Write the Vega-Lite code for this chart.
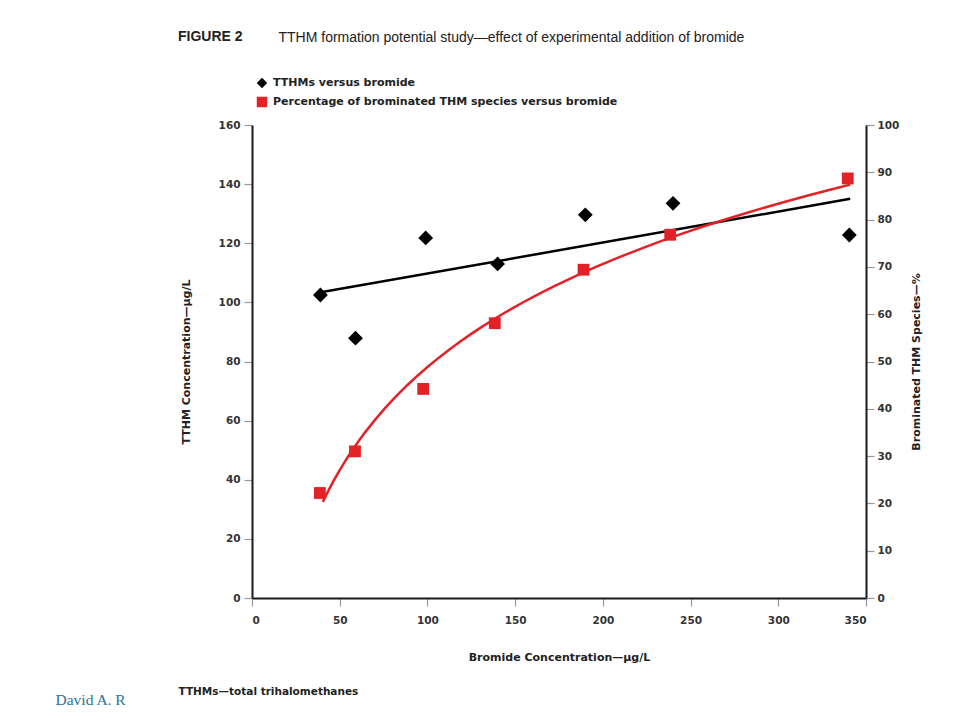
{
  "$schema": "https://vega.github.io/schema/vega-lite/v6.json",
  "width": 614,
  "height": 473,
  "autosize": {"type": "none"},
  "padding": {"left": 252, "top": 125, "right": 88, "bottom": 123},
  "background": "white",
  "config": {
    "view": {"stroke": null},
    "axis": {
      "labelFont": "DejaVu Sans",
      "labelFontWeight": "bold",
      "labelFontSize": 10.5,
      "labelColor": "#333333",
      "titleFont": "DejaVu Sans",
      "titleFontWeight": "bold",
      "titleFontSize": 11,
      "titleColor": "#222222",
      "domainColor": "#1a1a1a",
      "domainWidth": 2,
      "tickColor": "#999999",
      "tickWidth": 1.2,
      "tickSize": 8,
      "grid": false
    },
    "legend": {
      "orient": "none",
      "legendX": 4,
      "legendY": -48,
      "labelFont": "DejaVu Sans",
      "labelFontWeight": "bold",
      "labelFontSize": 11,
      "labelColor": "#222222",
      "labelLimit": 0,
      "symbolSize": 110,
      "labelOffset": 5,
      "rowPadding": 7,
      "padding": 0
    }
  },
  "datasets": {
    "tthm": [
      {"bromide": 39, "tthm": 102.5, "series": "TTHMs versus bromide"},
      {"bromide": 59, "tthm": 87.9, "series": "TTHMs versus bromide"},
      {"bromide": 99, "tthm": 121.8, "series": "TTHMs versus bromide"},
      {"bromide": 140, "tthm": 113.0, "series": "TTHMs versus bromide"},
      {"bromide": 190, "tthm": 129.6, "series": "TTHMs versus bromide"},
      {"bromide": 240, "tthm": 133.5, "series": "TTHMs versus bromide"},
      {"bromide": 340.5, "tthm": 122.8, "series": "TTHMs versus bromide"}
    ],
    "pct": [
      {"bromide": 38.7, "pct": 22.2, "series": "Percentage of brominated THM species versus bromide"},
      {"bromide": 58.7, "pct": 31.0, "series": "Percentage of brominated THM species versus bromide"},
      {"bromide": 97.6, "pct": 44.2, "series": "Percentage of brominated THM species versus bromide"},
      {"bromide": 138.4, "pct": 58.1, "series": "Percentage of brominated THM species versus bromide"},
      {"bromide": 189, "pct": 69.4, "series": "Percentage of brominated THM species versus bromide"},
      {"bromide": 238.4, "pct": 76.8, "series": "Percentage of brominated THM species versus bromide"},
      {"bromide": 339.6, "pct": 88.7, "series": "Percentage of brominated THM species versus bromide"}
    ]
  },
  "title": {
    "text": "FIGURE 2",
    "anchor": "start",
    "frame": "group",
    "dx": -74,
    "dy": 43,
    "offset": 29,
    "font": "Liberation Sans",
    "fontSize": 14,
    "fontWeight": "bold",
    "color": "#222222"
  },
  "layer": [
    {
      "data": {"name": "tthm"},
      "encoding": {
        "y": {
          "field": "tthm",
          "type": "quantitative",
          "scale": {"domain": [0, 160], "nice": false},
          "axis": {
            "orient": "left",
            "values": [0, 20, 40, 60, 80, 100, 120, 140, 160],
            "title": "TTHM Concentration—μg/L",
            "labelPadding": 4,
            "titlePadding": 27
          }
        }
      },
      "layer": [
        {
          "mark": {"type": "point", "filled": true, "opacity": 1, "size": 220},
          "encoding": {
            "x": {
              "field": "bromide",
              "type": "quantitative",
              "scale": {"domain": [0, 350], "nice": false},
              "axis": {
                "orient": "bottom",
                "values": [0, 50, 100, 150, 200, 250, 300, 350],
                "title": "Bromide Concentration—μg/L",
                "labelPadding": 9,
                "titlePadding": 26
              }
            },
            "color": {
              "field": "series",
              "type": "nominal",
              "title": null,
              "scale": {
                "domain": ["TTHMs versus bromide", "Percentage of brominated THM species versus bromide"],
                "range": ["#000000", "#e32227"]
              }
            },
            "shape": {
              "field": "series",
              "type": "nominal",
              "title": null,
              "scale": {
                "domain": ["TTHMs versus bromide", "Percentage of brominated THM species versus bromide"],
                "range": ["diamond", "square"]
              }
            }
          }
        },
        {
          "transform": [{"regression": "tthm", "on": "bromide", "extent": [40, 341]}],
          "mark": {"type": "line", "color": "#000000", "strokeWidth": 2.5},
          "encoding": {
            "x": {
              "field": "bromide",
              "type": "quantitative",
              "scale": {"domain": [0, 350], "nice": false},
              "axis": {
                "orient": "top",
                "title": "TTHM formation potential study—effect of experimental addition of bromide",
                "labels": false,
                "ticks": false,
                "domain": false,
                "titleAnchor": "start",
                "titleAlign": "left",
                "titleBaseline": "alphabetic",
                "titleX": 26,
                "titleY": -84,
                "titleFont": "Liberation Sans",
                "titleFontWeight": "normal",
                "titleFontSize": 14,
                "titleColor": "#222222"
              }
            }
          }
        }
      ],
      "resolve": {"axis": {"x": "independent"}}
    },
    {
      "data": {"name": "pct"},
      "encoding": {
        "y": {
          "field": "pct",
          "type": "quantitative",
          "scale": {"domain": [0, 100], "nice": false},
          "axis": {
            "orient": "right",
            "values": [0, 10, 20, 30, 40, 50, 60, 70, 80, 90, 100],
            "title": "Brominated THM Species—%",
            "titleAngle": 270,
            "titleBaseline": "top",
            "labelPadding": 3,
            "titlePadding": 12
          }
        }
      },
      "layer": [
        {
          "mark": {"type": "point", "filled": true, "opacity": 1, "size": 140},
          "encoding": {
            "x": {
              "field": "bromide",
              "type": "quantitative",
              "scale": {"domain": [0, 350], "nice": false},
              "axis": {
                "orient": "bottom",
                "title": "TTHMs—total trihalomethanes",
                "labels": false,
                "ticks": false,
                "domain": false,
                "titleAnchor": "start",
                "titleAlign": "left",
                "titleBaseline": "alphabetic",
                "titleX": -74,
                "titleY": 96,
                "titleFontSize": 10.5
              }
            },
            "color": {
              "field": "series",
              "type": "nominal",
              "title": null,
              "scale": {
                "domain": ["TTHMs versus bromide", "Percentage of brominated THM species versus bromide"],
                "range": ["#000000", "#e32227"]
              }
            },
            "shape": {
              "field": "series",
              "type": "nominal",
              "title": null,
              "scale": {
                "domain": ["TTHMs versus bromide", "Percentage of brominated THM species versus bromide"],
                "range": ["diamond", "square"]
              }
            }
          }
        },
        {
          "transform": [{"regression": "pct", "on": "bromide", "method": "log", "extent": [40.4, 341]}],
          "mark": {"type": "line", "color": "#e32227", "strokeWidth": 2.5},
          "encoding": {
            "x": {
              "field": "bromide",
              "type": "quantitative",
              "scale": {"domain": [0, 350], "nice": false},
              "axis": {
                "orient": "bottom",
                "title": "David A. R",
                "labels": false,
                "ticks": false,
                "domain": false,
                "titleAnchor": "start",
                "titleAlign": "left",
                "titleBaseline": "alphabetic",
                "titleX": -197,
                "titleY": 106,
                "titleFont": "Liberation Serif",
                "titleFontWeight": "normal",
                "titleFontSize": 15.5,
                "titleColor": "#2b7391"
              }
            }
          }
        }
      ],
      "resolve": {"axis": {"x": "independent"}}
    }
  ],
  "resolve": {"scale": {"y": "independent"}, "axis": {"x": "independent"}}
}
